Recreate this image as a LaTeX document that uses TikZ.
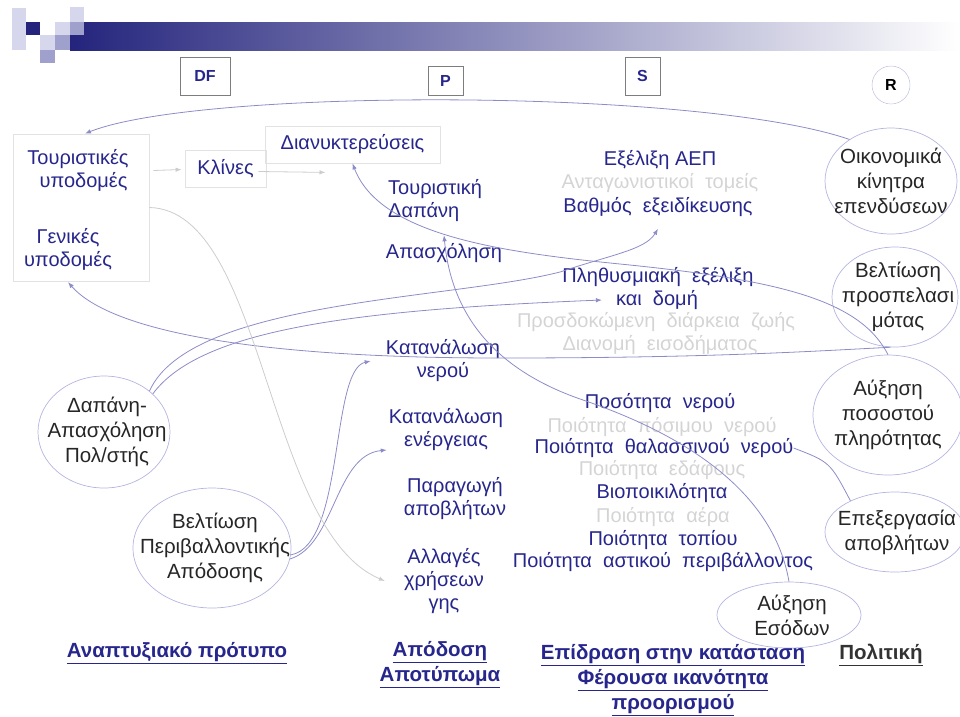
\documentclass[tikz,border=0pt]{standalone}
\usepackage{fontspec}
\setmainfont{Liberation Sans}
\usetikzlibrary{shapes.geometric,arrows.meta}

\definecolor{navy}{RGB}{38,38,140}
\definecolor{barnavy}{RGB}{36,36,125}
\definecolor{faintgray}{RGB}{212,212,212}
\definecolor{linkcol}{RGB}{140,140,200}
\definecolor{graylink}{RGB}{205,205,205}
\definecolor{ovalline}{RGB}{180,180,225}
\definecolor{boxline}{RGB}{226,226,226}
\definecolor{hdrline}{RGB}{125,125,125}
\definecolor{logolight}{RGB}{214,214,236}
\definecolor{logomid}{RGB}{160,160,205}

\begin{document}
\begin{tikzpicture}[x=1pt,y=-1pt,
    txt/.style={text=navy,font=\fontsize{20}{23}\selectfont,inner sep=0pt,align=center},
    faint/.style={txt,text=faintgray},
    oval/.style={draw=ovalline,line width=0.7pt,ellipse,inner sep=0pt},
    ovaltxt/.style={text=black!85,font=\fontsize{20.5}{25}\selectfont,inner sep=0pt,align=center},
    hdr/.style={draw=hdrline,line width=0.8pt,text=navy,font=\fontsize{16}{16}\selectfont\bfseries},
    plainbox/.style={draw=boxline,line width=0.8pt},
    link/.style={draw=linkcol,line width=0.8pt},
    arr/.style={link,-{Latex[length=6pt,width=4.5pt]}},
    grayarr/.style={draw=graylink,line width=0.8pt,-{Latex[length=6pt,width=4.5pt]}},
    foot/.style={text=navy,font=\fontsize{20.5}{25}\selectfont\bfseries,align=center,inner sep=0pt}]

    \useasboundingbox (0,0) rectangle (960,716);

    % Title bar and logo
    \shade[left color=barnavy,right color=white] (70,22) rectangle (960,50);
    \fill[logolight] (12,8) rectangle (26,22);
    \fill[logolight] (12,22) rectangle (26,50);
    \fill[barnavy] (26,22) rectangle (40,35);
    \fill[logolight] (40,35) rectangle (55,50);
    \fill[logomid] (40,50) rectangle (55,63);
    \fill[logolight] (55,22) rectangle (70,35);
    \fill[logomid] (55,35) rectangle (70,50);
    \fill[logolight] (70,7) rectangle (84,22);
    \fill[logomid] (70,22) rectangle (84,35);

    % Column heads
    \node[hdr,minimum width=50pt,minimum height=38pt] (dfbox) at (205,76) {DF};
    \node[hdr,minimum width=35pt,minimum height=29pt] (pbox) at (445.5,80.5) {P};
    \node[hdr,minimum width=35pt,minimum height=38pt] (sbox) at (642.5,76) {S};
    \node[draw=ovalline,circle,minimum size=38pt,inner sep=0pt,
          font=\fontsize{16}{16}\selectfont\bfseries] (rcirc) at (891,85) {R};

    % Driving forces
    \node[plainbox,minimum width=136pt,minimum height=147pt] (infra) at (81,207.5) {};
    \node[txt] (tour) at (78,170) {Τουριστικές\\\ \ υποδομές};
    \node[txt] (genik) at (68,249) {Γενικές\\υποδομές};
    \node[plainbox,txt,minimum width=81pt,minimum height=37pt] (beds) at (225.5,168.5) {Κλίνες};
    \node[plainbox,txt,minimum width=175pt,minimum height=37pt] (nights) at (352.5,144.5) {Διανυκτερεύσεις};

    % Pressures
    \node[txt,align=left,anchor=west] (spend) at (388,201) {Τουριστική\\Δαπάνη};
    \node[txt] (apasx) at (444,253) {Απασχόληση};
    \node[txt] (water) at (443,361) {Κατανάλωση\\νερού};
    \node[txt] (energy) at (446,430) {Κατανάλωση\\ενέργειας};
    \node[txt] (waste) at (455,499) {Παραγωγή\\αποβλήτων};
    \node[txt] (landuse) at (444,581) {Αλλαγές\\χρήσεων\\γης};

    % State
    \node[txt] (gdp) at (660,160) {Εξέλιξη ΑΕΠ};
    \node[faint] (compet) at (660,183) {Ανταγωνιστικοί\ \ τομείς};
    \node[txt] (spec) at (658,207) {Βαθμός\ \ εξειδίκευσης};
    \node[txt] (popul) at (658,277) {Πληθυσμιακή\ \ εξέλιξη};
    \node[txt] (kai) at (657,300) {και\ \ δομή};
    \node[faint] (life) at (656,322) {Προσδοκώμενη\ \ διάρκεια\ \ ζωής};
    \node[faint] (income) at (660,345) {Διανομή\ \ εισοδήματος};
    \node[txt] (qwater) at (660,403) {Ποσότητα\ \ νερού};
    \node[faint] (drink) at (662,427) {Ποιότητα\ \ πόσιμου\ \ νερού};
    \node[txt] (thal) at (664,448) {Ποιότητα\ \ θαλασσινού\ \ νερού};
    \node[faint] (soil) at (662,470) {Ποιότητα\ \ εδάφους};
    \node[txt] (biodiv) at (662,493) {Βιοποικιλότητα};
    \node[faint] (air) at (663,517) {Ποιότητα\ \ αέρα};
    \node[txt] (landsc) at (663,540) {Ποιότητα\ \ τοπίου};
    \node[txt] (urban) at (663,562) {Ποιότητα\ \ αστικού\ \ περιβάλλοντος};

    % Responses
    \node[oval,minimum width=132pt,minimum height=106pt] (oik) at (891,181) {};
    \node[ovaltxt] at (oik) {Οικονομικά\\κίνητρα\\επενδύσεων};
    \node[oval,minimum width=126pt,minimum height=100pt] (velt) at (895,297) {};
    \node[ovaltxt] at ([xshift=3pt]velt.center) {Βελτίωση\\προσπελασι\\μότας};
    \node[oval,minimum width=150pt,minimum height=120pt] (auxpl) at (888,415) {};
    \node[ovaltxt] at (auxpl) {Αύξηση\\ποσοστού\\πληρότητας};
    \node[oval,minimum width=140pt,minimum height=80pt] (epex) at (895,532) {};
    \node[ovaltxt] at ([xshift=2pt]epex.center) {Επεξεργασία\\αποβλήτων};
    \node[oval,minimum width=144pt,minimum height=66pt] (ausod) at (789,615) {};
    \node[ovaltxt] at ([xshift=3pt]ausod.center) {Αύξηση\\Εσόδων};
    \node[oval,minimum width=132pt,minimum height=112pt] (dap) at (104,432) {};
    \node[ovaltxt] at ([xshift=3pt]dap.center) {Δαπάνη-\\Απασχόληση\\Πολ/στής};
    \node[oval,minimum width=158pt,minimum height=120pt] (vpa) at (212,548) {};
    \node[ovaltxt] at ([xshift=3pt]vpa.center) {Βελτίωση\\Περιβαλλοντικής\\Απόδοσης};

    % Column captions
    \node[foot] (devmodel) at (177,653) {\underline{Αναπτυξιακό πρότυπο}};
    \node[foot] (perf) at (440,665) {\underline{Απόδοση}\\\underline{Αποτύπωμα}};
    \node[foot] (impact) at (673,680) {\underline{Επίδραση στην κατάσταση}\\\underline{Φέρουσα ικανότητα}\\\underline{προορισμού}};
    \node[foot,text=black!80] (policy) at (881,655) {\underline{Πολιτική}};

    % Links
    \draw[arr] (oik.135) .. controls (700,88) and (200,88) .. ([xshift=4pt]infra.north);
    \draw[grayarr] ([xshift=4pt,yshift=37pt]infra.east) -- ([xshift=-3pt,yshift=-1pt]beds.west);
    \draw[grayarr] ([xshift=-8pt,yshift=-3pt]beds.east) -- ([xshift=-27pt,yshift=-9pt]nights.south);
    \draw[arr] (auxpl.north) .. controls (860,300) and (780,280) .. (620,264)
        .. controls (500,252) and (380,235) .. (nights.south);
    \draw[arr] (velt.265) .. controls (800,352) and (700,358) .. (500,358)
        .. controls (250,358) and (110,330) .. ([yshift=-12pt]genik.south);
    \draw[arr] (dap.42) .. controls (190,300) and (450,300) .. (560,272)
        .. controls (610,255) and (645,250) .. ([yshift=-12pt]spec.south);
    \draw[arr] (dap.38) .. controls (200,330) and (350,310) .. ([xshift=-14pt]kai.west);
    \draw[arr] (vpa.-5) .. controls (345,545) and (330,370) .. ([xshift=-15pt]water.west);
    \draw[arr] (vpa.-8) .. controls (335,545) and (335,455) .. ([xshift=-2pt,yshift=-20pt]energy.west);
    \draw[grayarr] (infra.east) .. controls (265,210) and (265,530) .. ([xshift=-19pt]landuse.west);
    \draw[arr] (ausod.north) .. controls (775,500) and (700,440) .. (583,400)
        .. controls (480,365) and (450,300) .. ([yshift=8pt]apasx.north);
    \draw[link] (epex.145) .. controls (830,462) .. (thal.east);

\end{tikzpicture}
\end{document}
